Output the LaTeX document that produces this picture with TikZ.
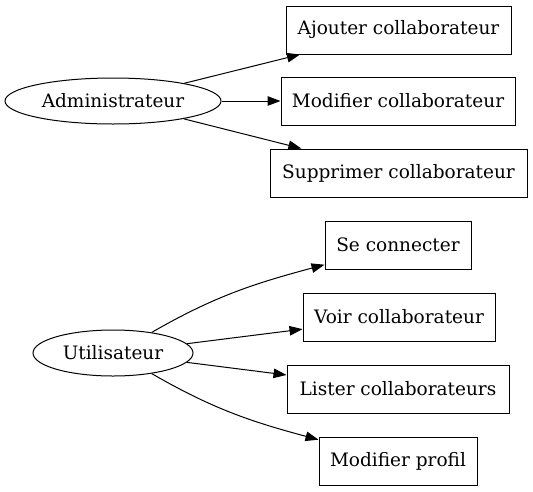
\documentclass[tikz,border=0pt]{standalone}
\usepackage{fontspec}
\setmainfont{DejaVu Serif}
\usetikzlibrary{shapes.geometric,arrows.meta}
\begin{document}
\begin{tikzpicture}[x=1pt,y=1pt,
  every node/.style={font=\fontsize{18.5}{22}\selectfont},
  actor/.style={draw, ellipse, line width=1pt, minimum height=46pt, inner sep=0pt},
  task/.style={draw, rectangle, line width=1pt, minimum height=48pt, inner sep=0pt},
  link/.style={line width=1pt, -{Triangle[length=13pt,width=9.5pt]}}]
\useasboundingbox (0,0) rectangle (533,-491);
\node[actor, minimum width=216pt] (admin) at (113,-101) {Administrateur};
\node[actor, minimum width=160pt] (util) at (113,-353) {Utilisateur};
\node[task, minimum width=225pt] (aj) at (398.5,-30) {Ajouter collaborateur};
\node[task, minimum width=234pt] (mc) at (398,-101) {Modifier collaborateur};
\node[task, minimum width=257pt] (sc) at (398.5,-173) {Supprimer collaborateur};
\node[task, minimum width=146pt] (se) at (398,-245) {Se connecter};
\node[task, minimum width=192pt] (vc) at (399,-317) {Voir collaborateur};
\node[task, minimum width=222pt] (lc) at (398,-389) {Lister collaborateurs};
\node[task, minimum width=158pt] (mp) at (398,-461) {Modifier profil};
\draw[link] (admin) -- (aj);
\draw[link] (admin) -- (mc);
\draw[link] (admin) -- (sc);
\draw[link] (util.28) to[out=30,in=195] (se.195);
\draw[link] (util) -- (vc);
\draw[link] (util) -- (lc);
\draw[link] (util.-28) to[out=-30,in=165] (mp.165);
\end{tikzpicture}
\end{document}
